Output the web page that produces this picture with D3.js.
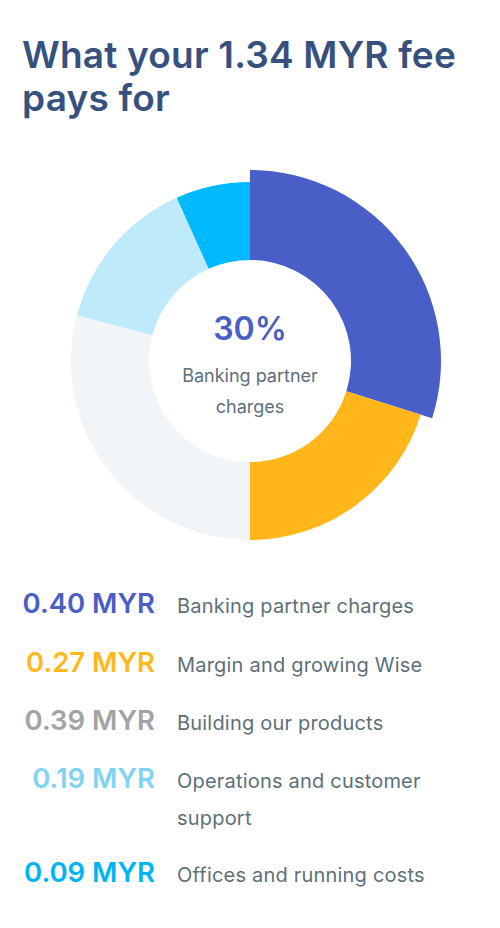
<!DOCTYPE html>
<meta charset="utf-8">
<title>What your 1.34 MYR fee pays for</title>
<style>
body { margin: 0; background: #fff; font-family: Inter, "Noto Sans", sans-serif; }
</style>
<body>
<div id="chart"></div>
<script src="https://d3js.org/d3.v7.min.js"></script>
<script>

var titleLines = ["What your 1.34 MYR fee", "pays for"];

var categories = [
  "Banking partner charges",
  "Margin and growing Wise",
  "Building our products",
  "Operations and customer support",
  "Offices and running costs"
];
var amounts = [0.40, 0.27, 0.39, 0.19, 0.09];
var amountLabels = ["0.40 MYR", "0.27 MYR", "0.39 MYR", "0.19 MYR", "0.09 MYR"];
var labelLines = [
  ["Banking partner charges"],
  ["Margin and growing Wise"],
  ["Building our products"],
  ["Operations and customer", "support"],
  ["Offices and running costs"]
];

var sliceColors = ["#4a5ec7", "#ffb71b", "#f1f5f8", "#bfeafb", "#00b9ff"];
var amountColors = ["#4a5ec7", "#ffb71b", "#a3a3a3", "#7fd4f3", "#00b4f5"];

var highlighted = 0;
var total = d3.sum(amounts);

var width = 500, height = 928;

var svg = d3.select("#chart")
  .append("svg")
    .attr("width", width)
    .attr("height", height);

// titel
svg.append("g")
  .selectAll("text")
  .data(titleLines)
  .enter()
  .append("text")
    .attr("x", 22)
    .attr("y", function (d, i) { return 68 + i * 43; })
    .style("font-size", "37px")
    .style("font-weight", 600)
    .style("letter-spacing", "0.2px")
    .style("fill", "#37517e")
    .text(function (d) { return d; });

// donut
var cx = 250, cy = 361;
var inner = 101, outer = 179, outerHi = 191;

var pie = d3.pie().sort(null).value(function (d) { return d; });
var arcs = pie(amounts);

var g = svg.append("g")
  .attr("transform", "translate(" + cx + "," + cy + ")");

g.selectAll("path")
  .data(arcs)
  .enter()
  .append("path")
    .attr("d", function (d, i) {
      return d3.arc()
        .innerRadius(inner)
        .outerRadius(i === highlighted ? outerHi : outer)(d);
    })
    .style("fill", function (d, i) { return sliceColors[i]; });

g.append("text")
  .attr("text-anchor", "middle")
  .attr("y", -21)
  .style("font-size", "32px")
  .style("font-weight", 600)
  .style("fill", sliceColors[highlighted])
  .text(d3.format(".0%")(amounts[highlighted] / total));

g.selectAll(".centerlabel")
  .data(["Banking partner", "charges"])
  .enter()
  .append("text")
    .attr("class", "centerlabel")
    .attr("text-anchor", "middle")
    .attr("y", function (d, i) { return 21 + i * 31; })
    .style("font-size", "18px")
    .style("fill", "#5d7079")
    .text(function (d) { return d; });

// legende
var rowY = [613, 672, 730, 788, 882];

var rows = svg.append("g")
  .selectAll("g")
  .data(categories)
  .enter()
  .append("g")
    .attr("transform", function (d, i) { return "translate(0," + rowY[i] + ")"; });

rows.append("text")
  .attr("x", 155)
  .attr("text-anchor", "end")
  .style("font-size", "27.5px")
  .style("font-weight", 600)
  .style("fill", function (d, i) { return amountColors[i]; })
  .text(function (d, i) { return amountLabels[i]; });

rows.each(function (d, i) {
  d3.select(this).selectAll(".lab")
    .data(labelLines[i])
    .enter()
    .append("text")
      .attr("class", "lab")
      .attr("x", 177)
      .attr("y", function (t, j) { return j * 37; })
      .style("font-size", "20px")
      .style("letter-spacing", "0.2px")
      .style("fill", "#5d7079")
      .text(function (t) { return t; });
});

</script>
</body>
